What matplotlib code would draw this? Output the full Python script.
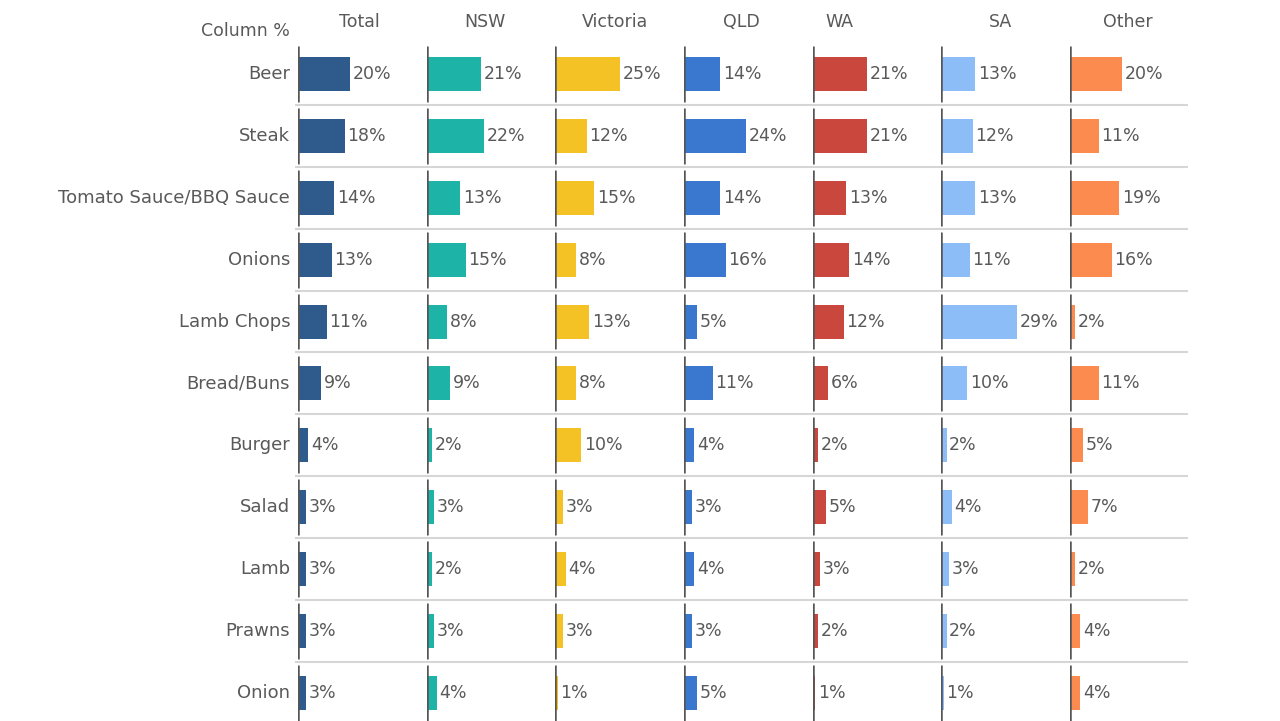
import numpy as np
import matplotlib.pyplot as plt

categories = ["Beer", "Steak", "Tomato Sauce/BBQ Sauce", "Onions", "Lamb Chops",
              "Bread/Buns", "Burger", "Salad", "Lamb", "Prawns", "Onion"]
regions = ["Total", "NSW", "Victoria", "QLD", "WA", "SA", "Other"]

total = [20, 18, 14, 13, 11, 9, 4, 3, 3, 3, 3]
nsw = [21, 22, 13, 15, 8, 9, 2, 3, 2, 3, 4]
victoria = [25, 12, 15, 8, 13, 8, 10, 3, 4, 3, 1]
qld = [14, 24, 14, 16, 5, 11, 4, 3, 4, 3, 5]
wa = [21, 21, 13, 14, 12, 6, 2, 5, 3, 2, 1]
sa = [13, 12, 13, 11, 29, 10, 2, 4, 3, 2, 1]
other = [20, 11, 19, 16, 2, 11, 5, 7, 2, 4, 4]

series = [total, nsw, victoria, qld, wa, sa, other]
colors = ["#2f5a8c", "#1db3a6", "#f5c226", "#3a78cf", "#c9473d", "#8cbdf7", "#fb8b4f"]

W, H = 1280, 721
text_color = "#595959"
fs = 12.5

fig = plt.figure(figsize=(W / 100, H / 100), dpi=100)

n = len(categories)
row_h = 61.9
top_px = 43
ymax = -0.5 + (H - top_px) / row_h
y = np.arange(n)

# background axes for row separators
bg = fig.add_axes([295 / W, 0, (1188 - 295) / W, 1 - top_px / H])
bg.set_xlim(0, 1)
bg.set_ylim(ymax, -0.5)
bg.axis("off")
for i in range(n - 1):
    bg.axhline(i + 0.5, color="#d6d6d6", lw=1.5)

panel_left = 298
panel_w = 128.67
header_x = [359, 485, 615, 741, 839, 1001, 1128]

for k, (name, vals, c) in enumerate(zip(regions, series, colors)):
    ax = fig.add_axes([(panel_left + k * panel_w) / W, 0, panel_w / W, 1 - top_px / H])
    ax.barh(y, vals, height=0.55, color=c)
    ax.set_xlim(0, 49.5)
    ax.set_ylim(ymax, -0.5)
    ax.axis("off")
    ax.vlines(np.zeros(n), y - 0.45, y + 0.45, color="#555555", lw=1.8)
    for yi, v in zip(y, vals):
        ax.text(v + 1.0, yi, f"{v}%", va="center", ha="left",
                fontsize=fs, color=text_color)
    fig.text(header_x[k] / W, 1 - 22 / H, name, ha="center", va="center",
             fontsize=fs, color=text_color)
    if k == 0:
        for yi, cat in zip(y, categories):
            ax.text(-3.0, yi, cat, va="center", ha="right",
                    fontsize=13, color=text_color)

fig.text(245 / W, 1 - 31 / H, "Column %", ha="center", va="center",
         fontsize=fs, color=text_color)

fig.savefig("out.png", dpi=100)
